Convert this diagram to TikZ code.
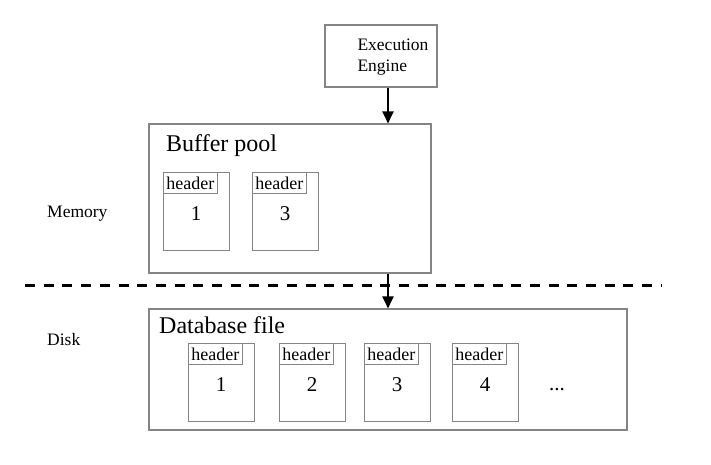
\documentclass[tikz,border=0pt]{standalone}
\usepackage{fontspec}
\setmainfont{Liberation Serif}
\usetikzlibrary{arrows.meta}
\definecolor{boxgray}{HTML}{858585}
\begin{document}
\begin{tikzpicture}[x=1pt,y=-1pt,
  box/.style={draw=boxgray, line width=1.1pt, inner sep=0pt},
  pagebox/.style={draw=boxgray, line width=1pt, minimum width=66pt, minimum height=78pt, anchor=north west, inner sep=0pt},
  hdr/.style={draw=boxgray, line width=0.9pt, minimum width=54pt, minimum height=21pt, inner sep=0pt, anchor=north west, font=\fontsize{18}{18}\selectfont},
  num/.style={font=\fontsize{21}{21}\selectfont, anchor=base, inner sep=0pt},
  lbl/.style={anchor=base west, inner sep=0pt},
  flow/.style={-{Triangle[length=12pt,width=11pt]}, line width=2pt},
  divider/.style={line width=3pt, dash pattern=on 10pt off 8.7pt},
]
\useasboundingbox (0,0) rectangle (711,465);

% main boxes
\node[box, minimum width=112pt, minimum height=62pt] (engine) at (381,56) {};
\node[align=left, font=\fontsize{17.5}{21}\selectfont] (enginelbl) at (393,57) {Execution\\Engine};
\node[box, minimum width=282pt, minimum height=149pt] (buffer) at (290,198.5) {};
\node[box, minimum width=478pt, minimum height=121pt] (db) at (388,369.5) {};

\node[lbl, font=\fontsize{24}{24}\selectfont] (bplbl) at (166,152) {Buffer pool};
\node[lbl, font=\fontsize{24}{24}\selectfont] (dblbl) at (159,333) {Database file};
\node[lbl, font=\fontsize{17.5}{17.5}\selectfont] (mem) at (47,217) {Memory};
\node[lbl, font=\fontsize{17.5}{17.5}\selectfont] (disk) at (47,345) {Disk};

% arrows
\coordinate (ax) at (388,0);
\draw[flow] (engine.south -| ax) -- (buffer.north -| ax);
\draw[flow] (buffer.south -| ax) -- (db.north -| ax);

% divider
\coordinate (dl) at (25,285);
\coordinate (dr) at (662,285);
\draw[divider] (dl) -- (dr);

% buffer pool pages
\node[pagebox] (bp1) at (163,172) {};
\node[hdr] (bp1h) at (bp1.north west) {header};
\node[num] (bp1n) at (196,220) {1};
\node[pagebox] (bp3) at (252,172) {};
\node[hdr] (bp3h) at (bp3.north west) {header};
\node[num] (bp3n) at (285,220) {3};

% database file pages
\node[pagebox] (df1) at (188,343) {};
\node[hdr] (df1h) at (df1.north west) {header};
\node[num] (df1n) at (221,391) {1};
\node[pagebox] (df2) at (279,343) {};
\node[hdr] (df2h) at (df2.north west) {header};
\node[num] (df2n) at (312,391) {2};
\node[pagebox] (df3) at (364,343) {};
\node[hdr] (df3h) at (df3.north west) {header};
\node[num] (df3n) at (397,391) {3};
\node[pagebox] (df4) at (452,343) {};
\node[hdr] (df4h) at (df4.north west) {header};
\node[num] (df4n) at (485,391) {4};
\node[num] (dots) at (557,390) {...};
\end{tikzpicture}
\end{document}
